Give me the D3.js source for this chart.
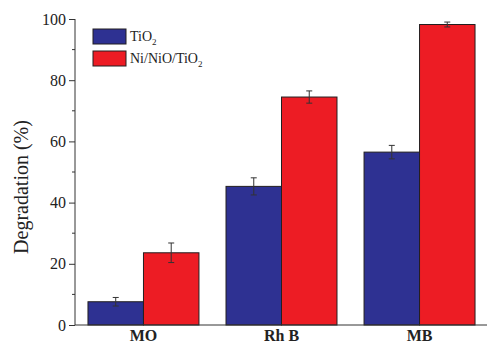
<!DOCTYPE html>
<html>
<head>
<meta charset="utf-8">
<script src="https://cdn.jsdelivr.net/npm/d3@7"></script>
<style>
  body { margin: 0; background: #fff; }
  text { font-family: "Liberation Serif", "Times New Roman", serif; fill: #222; }
</style>
</head>
<body>
<svg id="chart" width="487" height="346"></svg>
<script>
const categories = ['MO', 'Rh B', 'MB']
const seriesNames = ['TiO2', 'Ni/NiO/TiO2']
const tio2 = [7.6, 45.3, 56.5]
const tio2Err = [1.4, 2.8, 2.2]
const ninio = [23.6, 74.5, 98.2]
const ninioErr = [3.2, 2.0, 0.8]
const yTicks = [0, 20, 40, 60, 80, 100]
const colors = ['#2e3192', '#ed1c24']

const svg = d3.select('#chart')
const mLeft = 75, mRight = 487, mTop = 19, mBottom = 325

const x = d3.scaleBand().domain(categories).range([mLeft, 488]).paddingInner(0.196).paddingOuter(0.094)
const sub = d3.scaleBand().domain([0, 1]).range([0, x.bandwidth()])
const y = d3.scaleLinear().domain([0, 100]).range([mBottom, mTop])

const rows = categories.map((c, i) => ({
    c, vals: [{ v: tio2[i], e: tio2Err[i] }, { v: ninio[i], e: ninioErr[i] }]
}))

// bars
const grp = svg.append('g').selectAll('g').data(rows).enter().append('g')
    .attr('transform', d => `translate(${x(d.c)},0)`)
grp.selectAll('rect').data(d => d.vals).enter().append('rect')
    .attr('x', (d, j) => sub(j))
    .attr('y', d => y(d.v))
    .attr('width', sub.bandwidth())
    .attr('height', d => y(0) - y(d.v))
    .attr('fill', (d, j) => colors[j])
    .attr('stroke', '#231f20')
    .attr('stroke-width', 1)

// error bars
const eb = grp.selectAll('g.err').data(d => d.vals).enter().append('g')
    .attr('class', 'err')
    .attr('stroke', '#333').attr('stroke-width', 1)
eb.each(function (d, j) {
    const cx = sub(j) + sub.bandwidth() / 2
    const s = d3.select(this)
    s.append('line')
        .attr('x1', cx).attr('x2', cx)
        .attr('y1', y(d.v + d.e)).attr('y2', y(d.v - d.e))
    s.selectAll('line.cap').data([d.v + d.e, d.v - d.e]).enter().append('line')
        .attr('class', 'cap')
        .attr('x1', cx - 3).attr('x2', cx + 3)
        .attr('y1', v => y(v)).attr('y2', v => y(v))
})

// y axis
const yAxis = d3.axisLeft(y).tickValues(yTicks).tickSize(6).tickPadding(3)
const ya = svg.append('g').attr('transform', `translate(${mLeft},0)`).call(yAxis)
ya.select('.domain').attr('stroke', '#333').attr('d', `M0,${mBottom}V${mTop}`)
ya.selectAll('.tick line').attr('stroke', '#333')
ya.selectAll('.tick text').attr('font-size', 16).attr('fill', '#222')
    .style('font-family', '"Liberation Serif", serif')
ya.selectAll('line.minor').data(d3.range(10, 100, 20)).enter().append('line')
    .attr('class', 'minor').attr('stroke', '#333')
    .attr('x1', -3).attr('x2', 0).attr('y1', d => y(d)).attr('y2', d => y(d))

// x axis baseline
const xAxis = d3.axisBottom(x).tickSize(0).tickPadding(5)
const xa = svg.append('g').attr('transform', `translate(0,${mBottom})`).call(xAxis)
xa.select('.domain').attr('stroke', '#333').attr('d', `M${mLeft},0H${mRight}`)
xa.selectAll('.tick text').attr('font-size', 16).attr('font-weight', 'bold').attr('fill', '#222')
    .style('font-family', '"Liberation Serif", serif')

// y label
svg.append('text')
    .attr('transform', `translate(28,${(mTop + mBottom) / 2 + 15}) rotate(-90)`)
    .attr('text-anchor', 'middle')
    .attr('font-size', 20)
    .text('Degradation (%)')

// legend
const lg = svg.append('g').attr('transform', 'translate(93,29)')
const items = lg.selectAll('g').data(seriesNames).enter().append('g')
    .attr('transform', (d, i) => `translate(0,${i * 22})`)
items.append('rect').attr('width', 33).attr('height', 15)
    .attr('fill', (d, i) => colors[i]).attr('stroke', '#231f20')
items.append('text').attr('x', 37).attr('y', 12).attr('font-size', 14)
    .each(function (d) {
        const t = d3.select(this)
        t.append('tspan').text(d.slice(0, -1))
        t.append('tspan').attr('font-size', 9).attr('dy', 4).text('2')
    })
</script>
</body>
</html>
